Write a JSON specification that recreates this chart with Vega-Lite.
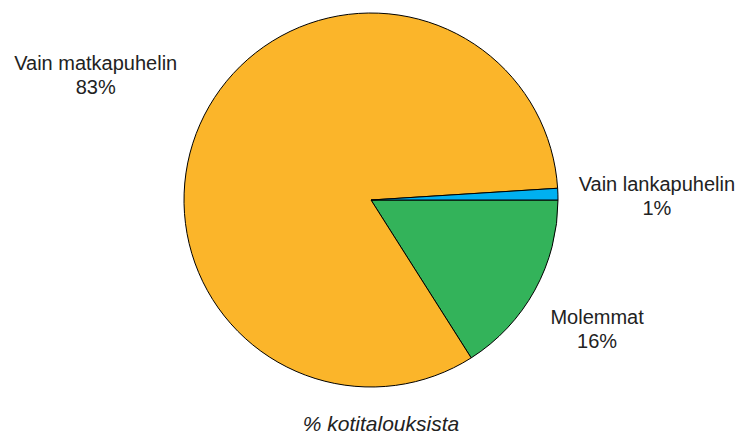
{
  "$schema": "https://vega.github.io/schema/vega-lite/v6.json",
  "width": 742,
  "height": 400,
  "padding": 0,
  "autosize": {"type": "pad"},
  "background": "white",
  "title": {
    "text": "% kotitalouksista",
    "orient": "bottom",
    "anchor": "middle",
    "offset": 14,
    "font": "Liberation Sans",
    "fontSize": 21,
    "fontStyle": "italic",
    "fontWeight": "normal",
    "color": "#222222",
    "dx": 10
  },
  "data": {
    "values": [
      {"category": "Molemmat", "pct": 16, "ord": 1},
      {"category": "Vain matkapuhelin", "pct": 83, "ord": 2},
      {"category": "Vain lankapuhelin", "pct": 1, "ord": 3}
    ]
  },
  "transform": [
    {"stack": "pct", "groupby": [], "sort": [{"field": "ord", "order": "ascending"}], "as": ["t0", "t1"]},
    {"calculate": "(datum.t0 + datum.t1) / 2", "as": "tmid"},
    {"calculate": "datum.category + '\\n' + datum.pct + '%'", "as": "label"}
  ],
  "layer": [
    {
      "mark": {"type": "arc", "radius": 187, "stroke": "black", "strokeWidth": 1},
      "encoding": {
        "theta": {"field": "t0", "type": "quantitative", "scale": {"domain": [0, 100], "range": [1.5707963, 7.8539816]}},
        "theta2": {"field": "t1"},
        "color": {
          "field": "category",
          "type": "nominal",
          "legend": null,
          "scale": {
            "domain": ["Molemmat", "Vain matkapuhelin", "Vain lankapuhelin"],
            "range": ["#33B35A", "#FBB52A", "#00B0F0"]
          }
        }
      }
    },
    {
      "transform": [{"filter": "datum.category == 'Vain matkapuhelin'"}],
      "mark": {"type": "text", "radius": 300, "dx": -8, "font": "Liberation Sans", "fontSize": 20, "color": "#222222", "lineBreak": "\n", "lineHeight": 24, "baseline": "middle"},
      "encoding": {
        "theta": {"field": "tmid", "type": "quantitative"},
        "text": {"field": "label"}
      }
    },
    {
      "transform": [{"filter": "datum.category == 'Vain lankapuhelin'"}],
      "mark": {"type": "text", "radius": 286, "dy": -6, "font": "Liberation Sans", "fontSize": 20, "color": "#222222", "lineBreak": "\n", "lineHeight": 24, "baseline": "middle"},
      "encoding": {
        "theta": {"field": "tmid", "type": "quantitative"},
        "text": {"field": "label"}
      }
    },
    {
      "transform": [{"filter": "datum.category == 'Molemmat'"}],
      "mark": {"type": "text", "radius": 258, "dy": -6, "font": "Liberation Sans", "fontSize": 20, "color": "#222222", "lineBreak": "\n", "lineHeight": 24, "baseline": "middle"},
      "encoding": {
        "theta": {"field": "tmid", "type": "quantitative"},
        "text": {"field": "label"}
      }
    }
  ]
}
